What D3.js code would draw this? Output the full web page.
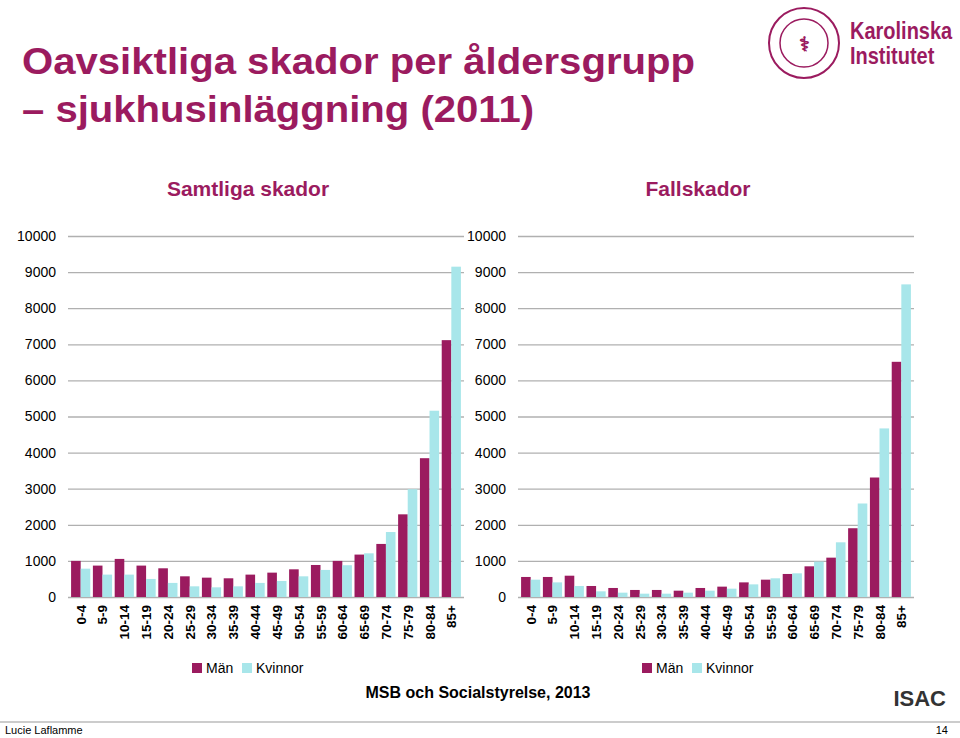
<!DOCTYPE html>
<html><head><meta charset="utf-8">
<script src="https://cdn.jsdelivr.net/npm/d3@7"></script>
<style>body{margin:0;background:#fff}svg{display:block;font-family:"Liberation Sans",Arial,sans-serif}</style>
</head><body><svg id="c" width="960" height="738"></svg>
<script>
const categories=["0-4","5-9","10-14","15-19","20-24","25-29","30-34","35-39","40-44","45-49","50-54","55-59","60-64","65-69","70-74","75-79","80-84","85+"];
const samtligaMan=[1000,870,1055,870,795,573,536,518,620,675,767,887,1000,1175,1470,2290,3845,7115];
const samtligaKvinnor=[785,620,620,500,390,296,268,296,390,444,573,750,880,1210,1800,2985,5160,9150];
const fallMan=[555,555,590,305,250,195,195,175,250,287,405,480,638,850,1090,1905,3310,6515];
const fallKvinnor=[480,405,305,157,120,92,92,120,175,231,350,518,656,980,1515,2590,4670,8660];
const yTicks=[0,1000,2000,3000,4000,5000,6000,7000,8000,9000,10000];
const MAROON="#9b1b5f", CYAN="#a8e6ea";
const svg=d3.select("#c");
svg.append("text").attr("x",22).attr("y",74).attr("fill",MAROON).attr("font-size",37).attr("font-weight","bold").attr("textLength",673).attr("lengthAdjust","spacingAndGlyphs").text("Oavsiktliga skador per åldersgrupp");
svg.append("text").attr("x",22).attr("y",122).attr("fill",MAROON).attr("font-size",37).attr("font-weight","bold").attr("textLength",512).attr("lengthAdjust","spacingAndGlyphs").text("– sjukhusinläggning (2011)");
const lg=svg.append("g");
lg.append("circle").attr("cx",804).attr("cy",43).attr("r",35).attr("fill","none").attr("stroke",MAROON).attr("stroke-width",2);
lg.append("circle").attr("cx",804).attr("cy",43).attr("r",24).attr("fill","none").attr("stroke",MAROON).attr("stroke-width",1.5);
lg.append("text").attr("x",804).attr("y",51).attr("text-anchor","middle").attr("fill",MAROON).attr("font-size",20).attr("font-weight","bold").text("⚕");
lg.append("text").attr("x",850).attr("y",39).attr("fill",MAROON).attr("font-size",20).attr("font-weight","bold").attr("transform","translate(850,39) scale(1,1.2) translate(-850,-39)").text("Karolinska");
lg.append("text").attr("x",850).attr("y",64).attr("fill",MAROON).attr("font-size",20).attr("font-weight","bold").attr("transform","translate(850,64) scale(1,1.2) translate(-850,-64)").text("Institutet");

function panel(x0,title,men,women){
  const g=svg.append("g");
  const y=d3.scaleLinear().domain([0,10000]).range([597,236]);
  const x=d3.scaleBand().domain(categories).range([x0+2,x0+394]).paddingInner(0.12).paddingOuter(0.05);
  g.append("text").attr("x",x0+180).attr("y",196).attr("text-anchor","middle").attr("fill",MAROON).attr("font-size",21).attr("font-weight","bold").text(title);
  const ax=g.append("g").attr("transform",`translate(${x0},0)`).call(d3.axisLeft(y).tickValues(yTicks).tickSize(-396).tickFormat(d3.format("d")));
  ax.select(".domain").remove();
  ax.selectAll(".tick line").attr("stroke","#b0b0b0").attr("stroke-width",1.3);
  ax.selectAll(".tick text").attr("x",-12).attr("font-size",14).attr("fill","#000").attr("font-family","Liberation Sans, Arial");
  const bw=x.bandwidth()/2;
  g.selectAll(".m").data(men).join("rect").attr("x",(d,i)=>x(categories[i])).attr("width",bw).attr("y",d=>y(d)).attr("height",d=>597-y(d)).attr("fill",MAROON);
  g.selectAll(".w").data(women).join("rect").attr("x",(d,i)=>x(categories[i])+bw).attr("width",bw).attr("y",d=>y(d)).attr("height",d=>597-y(d)).attr("fill",CYAN);
  g.selectAll(".cl").data(categories).join("text").attr("transform",d=>`translate(${x(d)+bw+5},605) rotate(-90)`).attr("text-anchor","end").attr("font-size",13.5).attr("font-weight","bold").text(d=>d);
  const lx=x0+124;
  g.append("rect").attr("x",lx).attr("y",663).attr("width",10).attr("height",10).attr("fill",MAROON);
  g.append("text").attr("x",lx+14).attr("y",673).attr("font-size",14).text("Män");
  g.append("rect").attr("x",lx+50).attr("y",663).attr("width",10).attr("height",10).attr("fill",CYAN);
  g.append("text").attr("x",lx+64).attr("y",673).attr("font-size",14).text("Kvinnor");
}
panel(68,"Samtliga skador",samtligaMan,samtligaKvinnor);
panel(518,"Fallskador",fallMan,fallKvinnor);
svg.append("text").attr("x",478).attr("y",698).attr("text-anchor","middle").attr("font-size",16).attr("font-weight","bold").text("MSB och Socialstyrelse, 2013");
svg.append("text").attr("x",946).attr("y",706).attr("text-anchor","end").attr("font-size",22).attr("font-weight","bold").attr("fill","#333").text("ISAC");
svg.append("line").attr("x1",0).attr("x2",960).attr("y1",722).attr("y2",722).attr("stroke","#999");
svg.append("text").attr("x",5).attr("y",734).attr("font-size",11).text("Lucie Laflamme");
svg.append("text").attr("x",948).attr("y",734).attr("text-anchor","end").attr("font-size",11).text("14");
</script></body></html>
